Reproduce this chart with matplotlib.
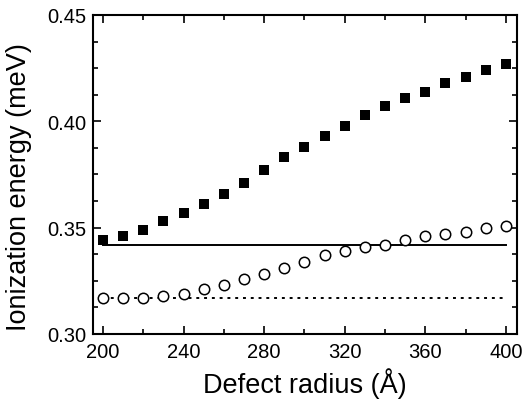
import matplotlib
matplotlib.use("Agg")
import matplotlib.pyplot as plt
from matplotlib.ticker import MultipleLocator

plt.rcParams['font.family'] = ['Liberation Sans', 'DejaVu Sans']

radius = [200, 210, 220, 230, 240, 250, 260, 270, 280, 290, 300,
          310, 320, 330, 340, 350, 360, 370, 380, 390, 400]
squares = [0.344, 0.346, 0.349, 0.353, 0.357, 0.361, 0.366, 0.371, 0.377, 0.383, 0.388,
           0.393, 0.398, 0.403, 0.407, 0.411, 0.414, 0.418, 0.421, 0.424, 0.427]
circles = [0.317, 0.317, 0.317, 0.318, 0.319, 0.321, 0.323, 0.326, 0.328, 0.331, 0.334,
           0.337, 0.339, 0.341, 0.342, 0.344, 0.346, 0.347, 0.348, 0.350, 0.351]
solid_level = 0.342
dotted_level = 0.317

fig = plt.figure(figsize=(5.23, 4.06), dpi=100)
ax = fig.add_axes([93/523, 1 - 335/406, (517-93)/523, (335-16)/406])

ax.plot([radius[0], radius[-1]], [solid_level, solid_level], color='black', lw=1.4)
ax.plot([radius[0], radius[-1]], [dotted_level, dotted_level], color='black', lw=1.4,
        linestyle=(0, (1.5, 2.5)))
ax.plot(radius, squares, 's', color='black', ms=7.5, mew=0)
ax.plot(radius, circles, 'o', mfc='white', mec='black', ms=7.5, mew=1.1)

ax.set_xlim(195, 405.5)
ax.set_ylim(0.30, 0.45)
ax.xaxis.set_major_locator(MultipleLocator(40))
ax.xaxis.set_minor_locator(MultipleLocator(20))
ax.yaxis.set_major_locator(MultipleLocator(0.05))
ax.yaxis.set_minor_locator(MultipleLocator(0.0125))
ax.yaxis.set_major_formatter(plt.FormatStrFormatter('%.2f'))
ax.tick_params(which='both', direction='in', top=True, right=True, labelsize=14.5, width=1.2)
ax.tick_params(which='major', length=6)
ax.tick_params(which='minor', length=3.5)
ax.tick_params(axis='x', pad=6)
ax.tick_params(axis='y', pad=5)
for s in ax.spines.values():
    s.set_linewidth(1.5)

ax.set_xlabel('Defect radius (Å)', fontsize=19.5, labelpad=4)
ax.set_ylabel('Ionization energy (meV)', fontsize=19.5)
ax.yaxis.set_label_coords(-0.145, 0.465)

fig.savefig('out.png', dpi=100)
